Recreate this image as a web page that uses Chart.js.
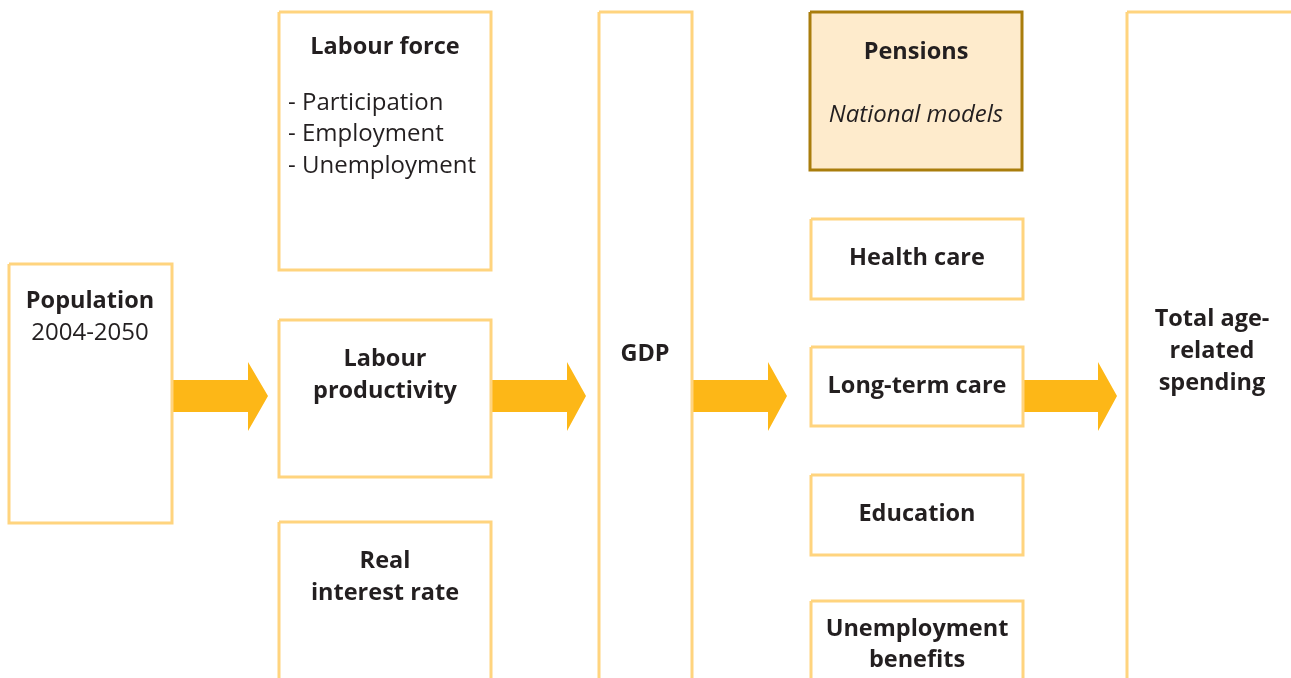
<!DOCTYPE html>
<html>
<head>
<meta charset="utf-8">
<script src="https://cdn.jsdelivr.net/npm/chart.js@4.4.1/dist/chart.umd.min.js"></script>
<style>
  html, body { margin: 0; padding: 0; background: #fff; }
  #wrap { width: 1291px; height: 678px; }
</style>
</head>
<body>
<div id="wrap"><canvas id="flow"></canvas></div>
<script>
// diagram space: x 0..1291, y 0..678 (downwards)
const boxNames   = ['Population', 'Labour force', 'Labour productivity', 'Real interest rate', 'GDP',
                    'Pensions', 'Health care', 'Long-term care', 'Education', 'Unemployment benefits', 'Total'];
const boxLeft    = [9,   279, 279, 279, 599, 810, 811, 811, 811, 811, 1127];
const boxRight   = [172, 491, 491, 491, 692, 1022, 1023, 1023, 1023, 1023, 1300];
const boxTop     = [264, 12,  320, 522, 12,  12,  219, 347, 475, 601, 12];
const boxBottom  = [523, 270, 477, 700, 700, 170, 299, 426, 555, 700, 700];

const arrowStart = [172, 491, 692, 1022];
const arrowHead  = [248, 567, 768, 1098];
const arrowTip   = [268, 586, 787, 1117];

// text lines
const labelText  = ['Population', '2004-2050', 'Labour force', '- Participation', '- Employment', '- Unemployment',
                    'Labour', 'productivity', 'Real', 'interest rate', 'GDP', 'Pensions', 'National models',
                    'Health care', 'Long-term care', 'Education', 'Unemployment', 'benefits',
                    'Total age-', 'related', 'spending'];
const labelX     = [90, 90, 385, 288, 288, 288, 385, 385, 385, 385, 645, 916, 916, 917, 917, 917, 917, 917, 1212, 1212, 1212];
const labelY     = [301, 333, 47, 103, 134, 166, 359, 391, 561, 593, 354, 52, 115, 258, 386, 514, 629, 660, 319, 351, 383];
const labelStyle = ['b', 'r', 'b', 'r', 'r', 'r', 'b', 'b', 'b', 'b', 'b', 'b', 'i', 'b', 'b', 'b', 'b', 'b', 'b', 'b', 'b'];

const datasets = [];

boxNames.forEach(function(name, i) {
    const hi = name === 'Pensions';
    datasets.push({
        label: name,
        data: [
            { x: boxLeft[i], y: boxTop[i] },
            { x: boxRight[i], y: boxTop[i] },
            { x: boxRight[i], y: boxBottom[i] },
            { x: boxLeft[i], y: boxBottom[i] },
            { x: boxLeft[i], y: boxTop[i] }
        ],
        showLine: true,
        fill: hi ? 'shape' : false,
        backgroundColor: hi ? '#FEEBCC' : 'rgba(0,0,0,0)',
        borderColor: hi ? '#A97D0C' : '#FFD47E',
        borderWidth: 3,
        pointRadius: 0,
        tension: 0,
        borderJoinStyle: 'miter'
    });
});

arrowStart.forEach(function(x0, i) {
    const h = arrowHead[i], t = arrowTip[i];
    datasets.push({
        label: 'arrow' + i,
        data: [
            { x: x0, y: 380 }, { x: h, y: 380 }, { x: h, y: 362 }, { x: t, y: 396 },
            { x: h, y: 431 }, { x: h, y: 412 }, { x: x0, y: 412 }, { x: x0, y: 380 }
        ],
        showLine: true,
        fill: 'shape',
        backgroundColor: '#FDB717',
        borderColor: '#FDB717',
        borderWidth: 0,
        pointRadius: 0,
        tension: 0
    });
});

const textPlugin = {
    id: 'boxText',
    afterDatasetsDraw(chart) {
        const ctx = chart.ctx;
        const xs = chart.scales.x, ys = chart.scales.y;
        ctx.save();
        ctx.fillStyle = '#231F20';
        ctx.textBaseline = 'middle';
        labelText.forEach(function(t, i) {
            const st = labelStyle[i];
            ctx.font = st === 'b' ? 'bold 23.5px "Open Sans"' : st === 'i' ? 'italic 24px "Open Sans"' : '24px "Open Sans"';
            ctx.textAlign = t.charAt(0) === '-' ? 'left' : 'center';
            ctx.fillText(t, xs.getPixelForValue(labelX[i]), ys.getPixelForValue(labelY[i]));
        });
        ctx.restore();
    }
};

new Chart(document.getElementById('flow'), {
    type: 'scatter',
    data: { datasets: datasets },
    options: {
        responsive: true,
        maintainAspectRatio: false,
        animation: false,
        layout: { padding: 0 },
        plugins: { legend: { display: false }, tooltip: { enabled: false } },
        scales: {
            x: { type: 'linear', min: 0, max: 1291, display: false },
            y: { type: 'linear', min: 0, max: 678, reverse: true, display: false }
        }
    },
    plugins: [textPlugin]
});
</script>
</body>
</html>
